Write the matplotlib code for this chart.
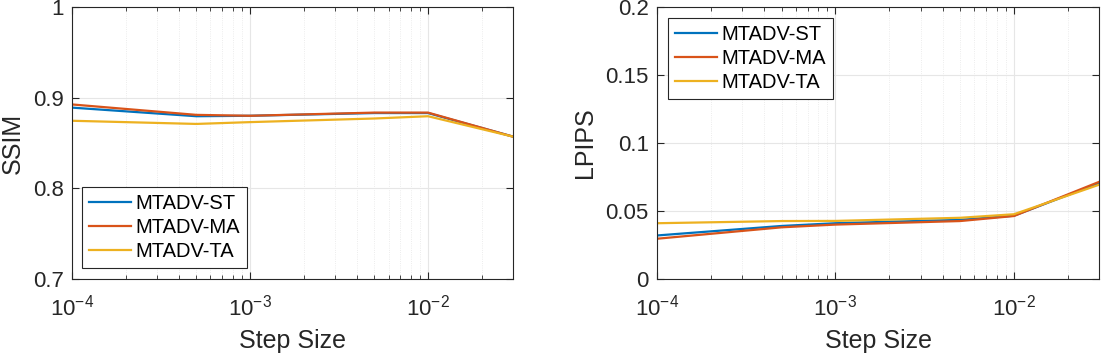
import matplotlib.pyplot as plt
from matplotlib.ticker import FormatStrFormatter, LogLocator, NullFormatter

plt.rcParams['font.family'] = ['Liberation Sans', 'DejaVu Sans']

step = [1e-4, 5e-4, 1e-3, 5e-3, 1e-2, 3e-2]
labels = ['MTADV-ST', 'MTADV-MA', 'MTADV-TA']

ssim_st = [0.889, 0.8795, 0.880, 0.883, 0.883, 0.857]
ssim_ma = [0.8925, 0.881, 0.880, 0.8835, 0.8835, 0.857]
ssim_ta = [0.8745, 0.871, 0.873, 0.877, 0.8795, 0.857]

lpips_st = [0.032, 0.039, 0.041, 0.0435, 0.0465, 0.0705]
lpips_ma = [0.0296, 0.038, 0.040, 0.0426, 0.0463, 0.0714]
lpips_ta = [0.041, 0.0426, 0.0427, 0.045, 0.0476, 0.0693]

colors = ['#0072BD', '#D95319', '#EDB120']
axcol = '#262626'

fig = plt.figure(figsize=(11.07, 3.57), dpi=100)
ax1 = fig.add_axes([0.065, 0.2185, 0.3984, 0.762])
ax2 = fig.add_axes([0.5935, 0.2185, 0.3993, 0.762])


def style(ax, ylim, yticks, ylabel):
    ax.set_xscale('log')
    ax.set_xlim(1e-4, 3e-2)
    ax.set_ylim(*ylim)
    ax.set_yticks(yticks)
    ax.yaxis.set_major_formatter(FormatStrFormatter('%g'))
    ax.xaxis.set_minor_locator(LogLocator(base=10, subs=range(2, 10)))
    ax.xaxis.set_minor_formatter(NullFormatter())
    ax.grid(True, which='major', color='#e6e6e6', lw=0.8, ls='-')
    ax.grid(True, which='minor', axis='x', color='#e6e6e6', lw=0.6, ls=':')
    ax.set_axisbelow(True)
    ax.tick_params(which='both', direction='in', top=True, right=True,
                   colors=axcol, labelsize=16, pad=6)
    ax.tick_params(which='major', length=5)
    ax.tick_params(which='minor', length=3)
    ax.tick_params(axis='x', pad=11)
    for s in ax.spines.values():
        s.set_color(axcol)
        s.set_linewidth(0.8)
    ax.set_xlabel('Step Size', fontsize=18, color=axcol, labelpad=6)
    ax.set_ylabel(ylabel, fontsize=18, color=axcol, labelpad=6)


def legend(ax, loc, anchor):
    leg = ax.legend(loc=loc, bbox_to_anchor=anchor, fontsize=14.5,
                    frameon=True, fancybox=False, framealpha=1, borderaxespad=0,
                    handlelength=2.1, labelspacing=0.25, handletextpad=0.2,
                    borderpad=0.35)
    leg.get_frame().set_edgecolor('#262626')
    leg.get_frame().set_linewidth(0.8)


for ys, c, lab in zip([ssim_st, ssim_ma, ssim_ta], colors, labels):
    ax1.plot(step, ys, color=c, lw=1.6, label=lab)
style(ax1, (0.7, 1.0), [0.7, 0.8, 0.9, 1.0], 'SSIM')
legend(ax1, 'lower left', (0.023, 0.04))

for ys, c, lab in zip([lpips_st, lpips_ma, lpips_ta], colors, labels):
    ax2.plot(step, ys, color=c, lw=1.6, label=lab)
style(ax2, (0, 0.2), [0, 0.05, 0.1, 0.15, 0.2], 'LPIPS')
legend(ax2, 'upper left', (0.025, 0.96))

fig.savefig('out.png', dpi=100)
